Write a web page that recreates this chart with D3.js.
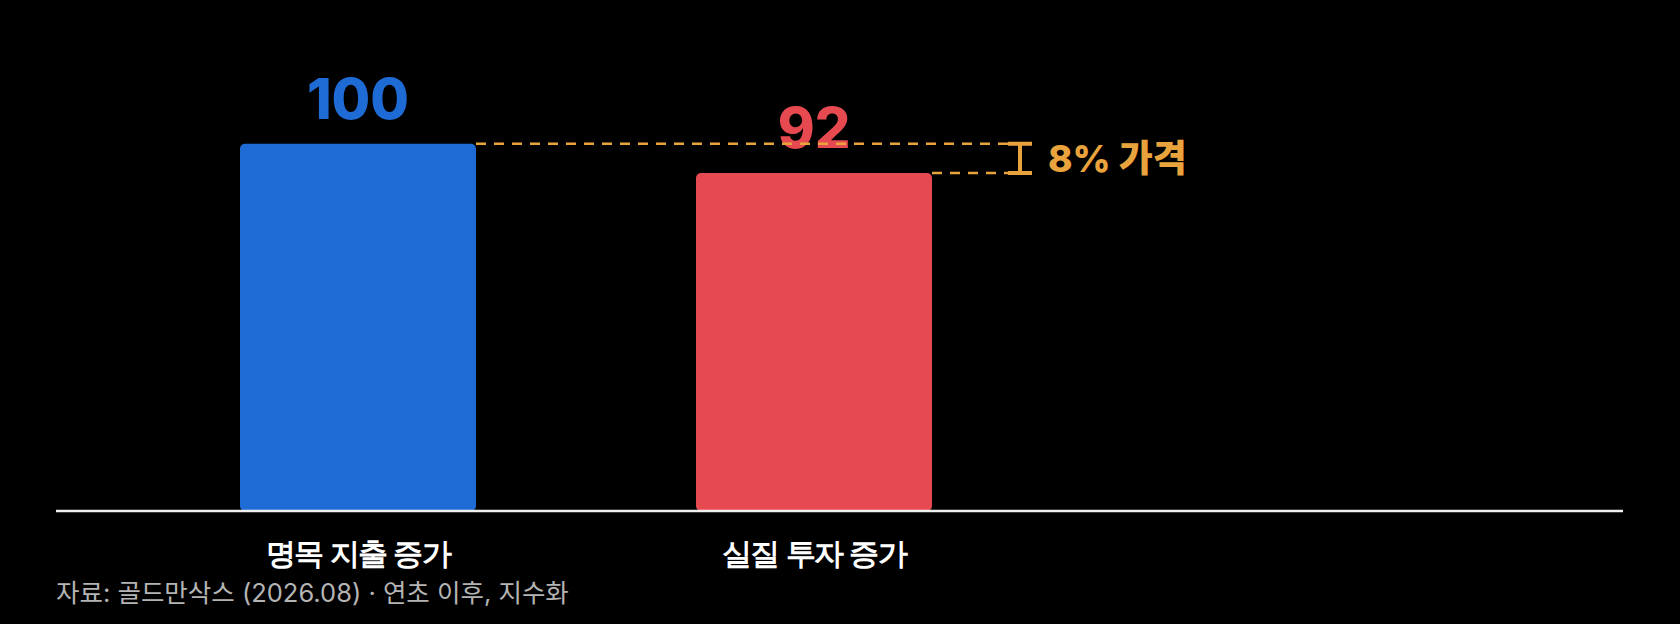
<!DOCTYPE html>
<html lang="ko">
<head>
<meta charset="UTF-8">
<title>명목 지출 증가 vs 실질 투자 증가</title>
<script src="https://cdn.jsdelivr.net/npm/d3@7"></script>
<style>
    html, body { margin: 0; padding: 0; background: #000; }
    svg { display: block; font-family: Inter, "Noto Sans CJK KR", sans-serif; }
    .cat text { fill: #fff; font-size: 30px; font-weight: 700; letter-spacing: -1.6px; }
</style>
</head>
<body>
<div id="chart"></div>
<script>
    // data (index, start of year = 100)
    const categories = ["명목 지출 증가", "실질 투자 증가"];
    const values = [100, 92];
    const colors = ["#1f6bd6", "#e64a50"];
    const gapLabel = "8% 가격";
    const source = "자료: 골드만삭스 (2026.08) · 연초 이후, 지수화";

    const width = 1680, height = 624;
    const baseY = 511;
    const accent = "#e9a33d";

    const svg = d3.select("#chart").append("svg")
        .attr("width", width)
        .attr("height", height);

    svg.append("rect").attr("width", width).attr("height", height).attr("fill", "#000");

    const x = d3.scaleBand()
        .domain(categories)
        .range([130, 1042])
        .paddingInner(0.4825)
        .paddingOuter(0.2412);

    const y = d3.scaleLinear()
        .domain([0, 110])
        .range([baseY, 107]);

    const rows = categories.map((c, i) => ({ cat: c, value: values[i], color: colors[i] }));

    // bars
    svg.append("g")
        .selectAll("rect")
        .data(rows)
        .join("rect")
        .attr("x", d => x(d.cat))
        .attr("y", d => y(d.value))
        .attr("width", x.bandwidth())
        .attr("height", d => y(0) - y(d.value))
        .attr("rx", 5)
        .attr("fill", d => d.color);

    // value labels
    svg.append("g")
        .selectAll("text")
        .data(rows)
        .join("text")
        .attr("x", d => x(d.cat) + x.bandwidth() / 2)
        .attr("y", d => y(d.value) - 25)
        .attr("text-anchor", "middle")
        .attr("font-size", 56)
        .attr("font-weight", 800)
        .attr("fill", d => d.color)
        .text(d => d.value);

    // baseline
    svg.append("line")
        .attr("x1", 56).attr("x2", 1623)
        .attr("y1", y(0)).attr("y2", y(0))
        .attr("stroke", "#f0f0f0")
        .attr("stroke-width", 2.5);

    // category labels
    svg.append("g")
        .attr("class", "cat")
        .attr("transform", `translate(0,${y(0)})`)
        .call(d3.axisBottom(x).tickSize(0).tickPadding(32))
        .call(g => g.select(".domain").remove())
        .call(g => g.selectAll("text").attr("font-family", null).attr("font-size", null));

    // gap annotation
    const bx = 1020, cap = 12;
    const yHi = y(values[0]), yLo = y(values[1]);
    const ann = svg.append("g").attr("stroke", accent).attr("fill", "none");
    ann.append("line")
        .attr("x1", x(categories[0]) + x.bandwidth()).attr("x2", bx - cap)
        .attr("y1", yHi).attr("y2", yHi)
        .attr("stroke-width", 2.5).attr("stroke-dasharray", "10 8");
    ann.append("line")
        .attr("x1", x(categories[1]) + x.bandwidth()).attr("x2", bx - cap)
        .attr("y1", yLo).attr("y2", yLo)
        .attr("stroke-width", 2.5).attr("stroke-dasharray", "10 8");
    ann.append("path")
        .attr("d", `M${bx - cap},${yHi}H${bx + cap}M${bx},${yHi}V${yLo}M${bx - cap},${yLo}H${bx + cap}`)
        .attr("stroke-width", 4);

    svg.append("text")
        .attr("x", 1048)
        .attr("y", (yHi + yLo) / 2 + 14)
        .attr("font-size", 37)
        .attr("font-weight", 800)
        .attr("fill", accent)
        .text(gapLabel);

    // source
    svg.append("text")
        .attr("x", 56)
        .attr("y", 602)
        .attr("font-size", 25.5)
        .attr("fill", "#b4b4b4")
        .text(source);
</script>
</body>
</html>
